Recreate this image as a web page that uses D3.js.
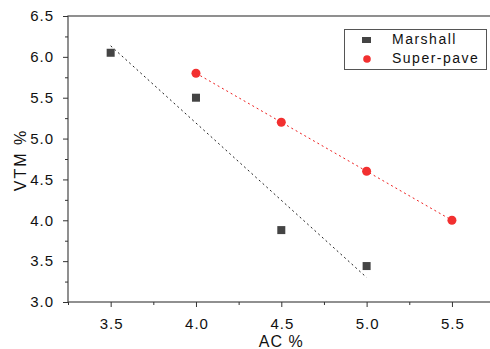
<!DOCTYPE html>
<html>
<head>
<meta charset="utf-8">
<script src="https://cdn.jsdelivr.net/npm/d3@7"></script>
<style>
  body { margin: 0; background: #fff; }
  svg { display: block; font-family: "Liberation Sans", Arial, sans-serif; }
</style>
</head>
<body>
<div id="chart"></div>
<script>
// data
const acMarshall = [3.5, 4.0, 4.5, 5.0];
const vtmMarshall = [6.05, 5.5, 3.88, 3.44];
const acSuperpave = [4.0, 4.5, 5.0, 5.5];
const vtmSuperpave = [5.8, 5.2, 4.6, 4.0];
const xTicks = [3.5, 4.0, 4.5, 5.0, 5.5];
const yTicks = [3.0, 3.5, 4.0, 4.5, 5.0, 5.5, 6.0, 6.5];

const W = 490, H = 349;
const plot = { left: 68, top: 16, right: 494.6, bottom: 302 };

const svg = d3.select("#chart").append("svg")
    .attr("width", W)
    .attr("height", H);

const x = d3.scaleLinear().domain([3.25, 5.75]).range([plot.left, plot.right]);
const y = d3.scaleLinear().domain([3.0, 6.5]).range([plot.bottom, plot.top]);

const axisColor = "#555";

// frame
svg.append("rect")
    .attr("x", plot.left).attr("y", plot.top)
    .attr("width", plot.right - plot.left).attr("height", plot.bottom - plot.top)
    .attr("fill", "none").attr("stroke", axisColor).attr("stroke-width", 1.3);

// minor ticks
const xMinor = d3.range(3.25, 5.76, 0.25).filter(v => !xTicks.some(t => Math.abs(t - v) < 1e-6));
const yMinor = d3.range(3.25, 6.5, 0.5);

svg.append("g")
    .attr("transform", `translate(0,${plot.bottom})`)
    .call(d3.axisBottom(x).tickValues(xMinor).tickSize(3).tickFormat(""))
    .call(g => g.select(".domain").remove())
    .call(g => g.selectAll("line").attr("stroke", "#333"));

svg.append("g")
    .attr("transform", `translate(${plot.left},0)`)
    .call(d3.axisLeft(y).tickValues(yMinor).tickSize(3).tickFormat(""))
    .call(g => g.select(".domain").remove())
    .call(g => g.selectAll("line").attr("stroke", "#333"));

// major axes
const xAxis = svg.append("g")
    .attr("transform", `translate(0,${plot.bottom})`)
    .call(d3.axisBottom(x).tickValues(xTicks).tickSize(5).tickPadding(11).tickFormat(d3.format(".1f")));
xAxis.select(".domain").remove();

const yAxis = svg.append("g")
    .attr("transform", `translate(${plot.left},0)`)
    .call(d3.axisLeft(y).tickValues(yTicks).tickSize(5).tickPadding(9).tickFormat(d3.format(".1f")));
yAxis.select(".domain").remove();

[xAxis, yAxis].forEach(a => {
    a.selectAll("line").attr("stroke", "#333");
    a.selectAll("text").attr("font-size", 15).attr("fill", "#111")
        .attr("letter-spacing", 1)
        .attr("font-family", "'Liberation Sans', Arial, sans-serif");
});
xAxis.selectAll("text").attr("dx", 0.5);

// axis titles
svg.append("text")
    .attr("x", (plot.left + plot.right) / 2).attr("y", 347)
    .attr("text-anchor", "middle").attr("font-size", 16).attr("fill", "#111")
    .attr("letter-spacing", 1)
    .text("AC %");

svg.append("text")
    .attr("transform", `translate(26,${(plot.top + plot.bottom) / 2 + 1}) rotate(-90)`)
    .attr("text-anchor", "middle").attr("font-size", 16).attr("fill", "#111")
    .attr("letter-spacing", 2)
    .text("VTM %");

// linear fit from data
function fit(xs, ys) {
    const mx = d3.mean(xs), my = d3.mean(ys);
    const b = d3.sum(xs, (v, i) => (v - mx) * (ys[i] - my)) / d3.sum(xs, v => (v - mx) ** 2);
    const a = my - b * mx;
    const x0 = d3.min(xs), x1 = d3.max(xs);
    return [[x0, a + b * x0], [x1, a + b * x1]];
}

const line = d3.line().x(d => x(d[0])).y(d => y(d[1]));

svg.append("path")
    .attr("d", line(fit(acMarshall, vtmMarshall)))
    .attr("fill", "none").attr("stroke", "#222").attr("stroke-width", 1)
    .attr("stroke-dasharray", "2,3");

svg.append("path")
    .attr("d", line(fit(acSuperpave, vtmSuperpave)))
    .attr("fill", "none").attr("stroke", "#ee2020").attr("stroke-width", 1)
    .attr("stroke-dasharray", "2,3");

// markers
const sq = 8;
svg.append("g").selectAll("rect")
    .data(acMarshall)
    .join("rect")
    .attr("x", d => x(d) - sq / 2)
    .attr("y", (d, i) => y(vtmMarshall[i]) - sq / 2)
    .attr("width", sq).attr("height", sq)
    .attr("fill", "#444");

svg.append("g").selectAll("circle")
    .data(acSuperpave)
    .join("circle")
    .attr("cx", d => x(d))
    .attr("cy", (d, i) => y(vtmSuperpave[i]))
    .attr("r", 4.5)
    .attr("fill", "#f23030");

// legend
const lg = svg.append("g");
lg.append("rect")
    .attr("x", 344.5).attr("y", 29.5).attr("width", 142).attr("height", 40)
    .attr("fill", "#fff").attr("stroke", "#555").attr("stroke-width", 1);
lg.append("rect")
    .attr("x", 362).attr("y", 37).attr("width", 9).attr("height", 6)
    .attr("fill", "#444");
lg.append("circle")
    .attr("cx", 367).attr("cy", 59).attr("r", 3.8)
    .attr("fill", "#f23030");
lg.append("text").attr("x", 392).attr("y", 44.3).attr("font-size", 14)
    .attr("letter-spacing", 1.5).attr("fill", "#111").text("Marshall");
lg.append("text").attr("x", 392).attr("y", 63.3).attr("font-size", 14)
    .attr("letter-spacing", 1.5).attr("fill", "#111").text("Super-pave");
</script>
</body>
</html>
